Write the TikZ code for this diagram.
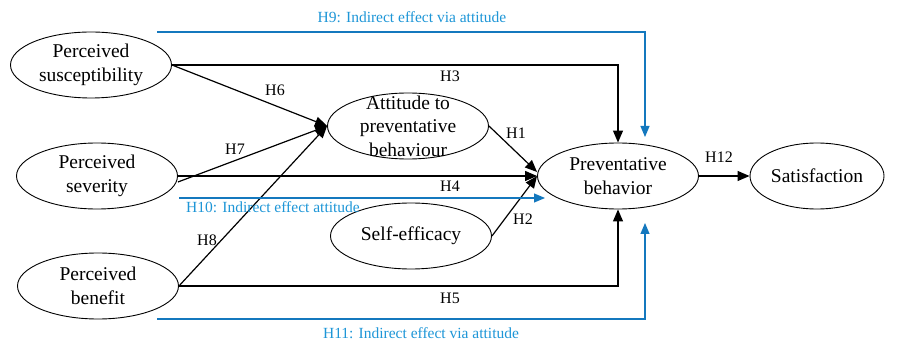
\documentclass[tikz,border=0pt]{standalone}
\usepackage{fontspec}
\setmainfont{Liberation Serif}
\usetikzlibrary{shapes.geometric,arrows.meta}
\definecolor{bline}{RGB}{20,120,190}
\definecolor{btext}{RGB}{30,150,215}
\tikzset{
  ell/.style={draw,ellipse,line width=0.9pt,minimum width=161pt,minimum height=66pt,inner sep=0pt},
  etext/.style={align=center,font=\fontsize{19.5}{24}\selectfont,inner sep=0pt},
  hlab/.style={font=\fontsize{16}{18}\selectfont,inner sep=0pt},
  blab/.style={font=\fontsize{15.5}{18}\selectfont,text=btext,inner sep=0pt},
  arr/.style={line width=1.2pt,-{Triangle[length=12pt,width=10pt]}},
  barr/.style={line width=1.1pt,draw=bline,-{Triangle[length=11pt,width=9pt]},bline}
}
\begin{document}
\begin{tikzpicture}[x=1pt,y=-1pt]
\useasboundingbox (0,0) rectangle (897,344);
% ellipses
\node[ell] (sus) at (91,65) {};
\node[etext] (sus-t) at (91,65) {Perceived\\susceptibility};
\node[ell] (sev) at (97,176) {};
\node[etext] (sev-t) at (97,176) {Perceived\\severity};
\node[ell] (ben) at (98,286) {};
\node[etext] (ben-t) at (98,286) {Perceived\\benefit};
\node[ell] (att) at (408,126) {};
\node[etext,font=\fontsize{19.5}{23.5}\selectfont] (att-t) at (408,126) {Attitude to\\preventative\\behaviour};
\node[ell] (se) at (411,236) {};
\node[etext] (se-t) at (411,236) {Self-efficacy};
\node[ell] (pb) at (618,176) {};
\node[etext] (pb-t) at (618,176) {Preventative\\behavior};
\node[ell,minimum width=134pt] (sat) at (817,176) {};
\node[etext] (sat-t) at (817,176) {Satisfaction};
% black connectors
\draw[arr] (sus.east) -| (pb.north);
\draw[arr] (sus.east) -- (att.west);
\draw[arr] ([yshift=-6pt]sev.east) -- (att.west);
\draw[arr] (sev.east) -- (pb.west);
\draw[arr] (ben.east) -- (att.west);
\draw[arr] (ben.east) -| (pb.south);
\draw[arr] (att.east) -- ([yshift=4pt]pb.west);
\draw[arr] (se.east) -- (pb.west);
\draw[arr] (pb.east) -- (sat.west);
% blue connectors
\coordinate (b9s) at (157,32);
\coordinate (b9e) at (645,137);
\coordinate (b10s) at (179,198);
\coordinate (b10e) at (545,198);
\coordinate (b11s) at (157,319);
\coordinate (b11e) at (645,223);
\draw[barr] (b9s) -| (b9e);
\draw[barr] (b10s) -- (b10e);
\draw[barr] (b11s) -| (b11e);
% labels
\node[hlab] (l3) at (450,76) {H3};
\node[hlab] (l6) at (275,90) {H6};
\node[hlab] (l7) at (235,149) {H7};
\node[hlab] (l4) at (450,186) {H4};
\node[hlab] (l8) at (207,240) {H8};
\node[hlab] (l5) at (450,298) {H5};
\node[hlab] (l1) at (516,133) {H1};
\node[hlab] (l2) at (523,219) {H2};
\node[hlab] (l12) at (719,157) {H12};
\node[blab] (l9) at (412,17) {H9: Indirect effect via attitude};
\node[blab] (l10) at (273,207) {H10: Indirect effect attitude};
\node[blab] (l11) at (421,333) {H11: Indirect effect via attitude};
\end{tikzpicture}
\end{document}
